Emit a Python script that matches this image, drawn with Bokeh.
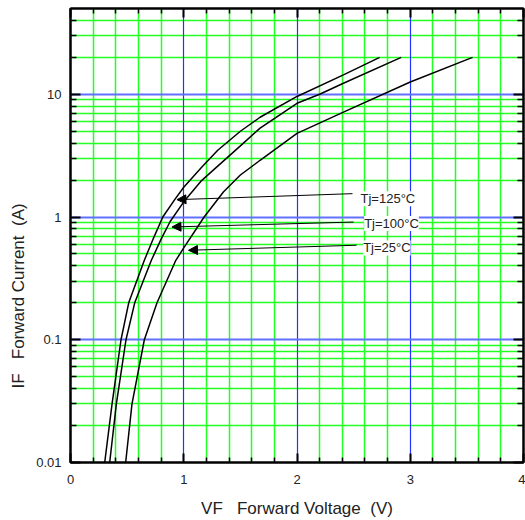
from bokeh.plotting import figure
from bokeh.models import (FixedTicker, LinearAxis, LogAxis, Grid, Label, Arrow, NormalHead,
                          ColumnDataSource, CustomJSTickFormatter, Range1d, Title)
from bokeh.embed import file_html
from bokeh.resources import INLINE

# ---- data ----
vf_125 = [0.302, 0.367, 0.446, 0.514, 0.652, 0.735, 0.815, 0.92, 1.0, 1.15, 1.3, 1.5, 1.674, 2.0, 2.41, 2.73]
if_125 = [0.01, 0.03, 0.1, 0.2, 0.444, 0.68, 1.0, 1.385, 1.75, 2.5, 3.5, 5.0, 6.5, 9.6, 14.4, 20.0]
vf_100 = [0.346, 0.405, 0.49, 0.567, 0.714, 0.80, 0.88, 1.0, 1.15, 1.3, 1.5, 1.674, 2.0, 2.2, 2.41, 2.92]
if_100 = [0.01, 0.03, 0.1, 0.2, 0.444, 0.66, 0.92, 1.33, 1.95, 2.6, 3.8, 5.3, 8.45, 10.0, 12.3, 20.0]
vf_25 = [0.487, 0.543, 0.652, 0.764, 0.93, 1.0, 1.18, 1.35, 1.5, 1.674, 2.0, 2.41, 3.0, 3.55]
if_25 = [0.01, 0.03, 0.1, 0.2, 0.444, 0.56, 1.0, 1.6, 2.2, 2.9, 4.8, 7.15, 12.6, 20.0]

label_text = ["Tj=125°C", "Tj=100°C", "Tj=25°C"]
label_v = [2.561, 2.593, 2.584]
label_i = [1.41, 0.884, 0.56]
arrow_tail_v = [2.49, 2.50, 2.526]
arrow_tail_i = [1.55, 0.91, 0.589]
arrow_head_v = [0.94, 0.896, 1.042]
arrow_head_i = [1.385, 0.83, 0.536]

x_major = [0, 1, 2, 3, 4]
x_minor = [0.2, 0.4, 0.6, 0.8, 1.2, 1.4, 1.6, 1.8, 2.2, 2.4, 2.6, 2.8, 3.2, 3.4, 3.6, 3.8]
y_major = [0.01, 0.1, 1, 10]
y_minor = [0.02, 0.03, 0.04, 0.05, 0.06, 0.07, 0.08, 0.09,
           0.2, 0.3, 0.4, 0.5, 0.6, 0.7, 0.8, 0.9,
           2, 3, 4, 5, 6, 7, 8, 9, 20, 30, 40]
x_blue = [1, 2, 3]
y_blue = [0.1, 1, 10]

NB = "\u00a0"
x_title = "VF" + NB * 3 + "Forward Voltage" + NB * 2 + "(V)"
y_title = "IF" + NB * 3 + "Forward Current" + NB * 2 + "(A)"

FONT = "Liberation Sans"
GREEN = "#22ff22"
BLUE_V = "#2233ff"
BLUE_H = "#6070ff"

p = figure(frame_width=453, frame_height=454, x_range=Range1d(0, 4), y_range=Range1d(0.01, 50),
           y_axis_type="log", output_backend="svg", toolbar_location=None,
           min_border_left=70, min_border_right=2, min_border_top=8, min_border_bottom=58,
           background_fill_color="white", border_fill_color="white")
p.outline_line_color = "black"
p.outline_line_width = 2
p.xgrid.visible = False
p.ygrid.visible = False

# grids
p.add_layout(Grid(dimension=0, ticker=FixedTicker(ticks=x_minor), grid_line_color=GREEN, grid_line_width=1.5))
p.add_layout(Grid(dimension=1, ticker=FixedTicker(ticks=y_minor), grid_line_color=GREEN, grid_line_width=1.5))
p.add_layout(Grid(dimension=0, ticker=FixedTicker(ticks=x_blue), grid_line_color=BLUE_V, grid_line_width=1.2))
p.add_layout(Grid(dimension=1, ticker=FixedTicker(ticks=y_blue), grid_line_color=BLUE_H, grid_line_width=2))

blank = CustomJSTickFormatter(code="return ''")


def style_axis(ax, major_in, minor_in, labels=True):
    ax.axis_line_color = "black"
    ax.axis_line_width = 2
    ax.major_tick_in = major_in
    ax.major_tick_out = 0
    ax.minor_tick_in = minor_in
    ax.minor_tick_out = 0
    ax.major_tick_line_width = 2
    ax.minor_tick_line_width = 1.5
    ax.major_tick_line_color = "black"
    ax.minor_tick_line_color = "black"
    if labels:
        ax.major_label_text_font = FONT
        ax.major_label_text_font_size = "13px"
        ax.major_label_text_color = "#222222"
    else:
        ax.formatter = blank
        ax.major_label_text_font_size = "1px"
        ax.major_label_text_alpha = 0
        ax.major_label_standoff = 0


xb = p.xaxis[0]
xb.ticker = FixedTicker(ticks=x_major, minor_ticks=x_minor)
style_axis(xb, 9, 5)
xb.major_label_standoff = 12
xb.axis_label = x_title
xb.axis_label_text_font = FONT
xb.axis_label_text_font_size = "17px"
xb.axis_label_text_font_style = "normal"
xb.axis_label_text_color = "#222222"
xb.axis_label_standoff = 12

yl = p.yaxis[0]
yl.ticker = FixedTicker(ticks=y_major, minor_ticks=y_minor)
yl.formatter = CustomJSTickFormatter(code="return tick.toString()")
style_axis(yl, 10, 6)
yl.major_label_standoff = 9

xt = LinearAxis(ticker=FixedTicker(ticks=x_major, minor_ticks=x_minor))
style_axis(xt, 9, 5, labels=False)
p.add_layout(xt, "above")

yr = LogAxis(ticker=FixedTicker(ticks=y_major, minor_ticks=y_minor))
style_axis(yr, 10, 6, labels=False)
p.add_layout(yr, "right")

# y title (placed off-centre like the reference)
p.add_layout(Title(text=y_title, align="left", offset=74, vertical_align="middle",
                   text_font=FONT, text_font_size="17px", text_font_style="normal",
                   text_color="#222222"), "left")

# curves
for vf, i_f in ((vf_125, if_125), (vf_100, if_100), (vf_25, if_25)):
    p.line(vf, i_f, line_color="black", line_width=1.5)

# arrows
arr_src = ColumnDataSource(dict(x0=arrow_tail_v, y0=arrow_tail_i, x1=arrow_head_v, y1=arrow_head_i))
p.add_layout(Arrow(end=NormalHead(size=9, fill_color="black", line_color="black", line_width=1),
                   x_start="x0", y_start="y0", x_end="x1", y_end="y1", source=arr_src,
                   line_color="black", line_width=1))

for t, lv, li in zip(label_text, label_v, label_i):
    p.add_layout(Label(x=lv, y=li, text=t, text_font=FONT, text_font_size="13px",
                       text_color="#222222", text_align="left", text_baseline="middle",
                       background_fill_color="white"))

open("out.html", "w").write(file_html(p, INLINE))
